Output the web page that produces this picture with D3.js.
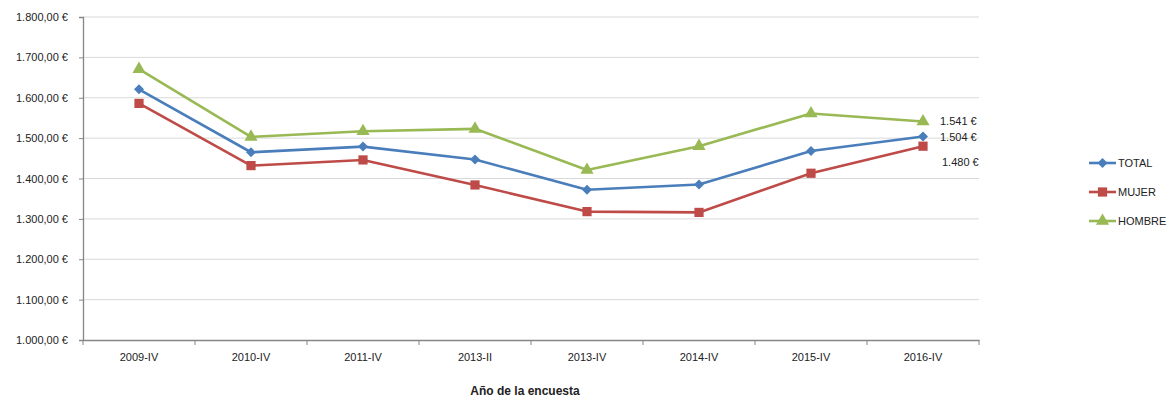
<!DOCTYPE html>
<html>
<head>
<meta charset="utf-8">
<script src="https://cdn.jsdelivr.net/npm/d3@7"></script>
<style>
	body { margin: 0; background: #fff; }
	svg { font-family: "Liberation Sans", "DejaVu Sans", sans-serif; }
</style>
</head>
<body>
<svg width="1171" height="405"></svg>
<script>
// data........................................................................

var categories = ["2009-IV", "2010-IV", "2011-IV", "2013-II", "2013-IV", "2014-IV", "2015-IV", "2016-IV"];
var total  = [1621, 1465, 1479, 1447, 1372, 1385, 1468, 1504];
var mujer  = [1586, 1432, 1446, 1384, 1318, 1316, 1413, 1480];
var hombre = [1671, 1503, 1517, 1523, 1421, 1480, 1561, 1541];
var yTicks = [1000, 1100, 1200, 1300, 1400, 1500, 1600, 1700, 1800];
var lastLabels = ["1.504 €", "1.480 €", "1.541 €"];

var series = [
	{name: "TOTAL",  values: total,  color: "#4a7ebb", symbol: d3.symbolSquare,   size: 50, rot: 45},
	{name: "MUJER",  values: mujer,  color: "#be4b48", symbol: d3.symbolSquare,   size: 85, rot: 0},
	{name: "HOMBRE", values: hombre, color: "#98b954", symbol: d3.symbolTriangle, size: 75, rot: 0}
];

// scales and axes.............................................................

var svg = d3.select("svg"),
	plotL = 83, plotR = 979, plotT = 17, plotB = 340;

var x = d3.scaleBand().domain(categories).range([plotL, plotR]),
	y = d3.scaleLinear().domain([1000, 1800]).range([plotB, plotT]);

var fmt = d3.formatLocale({decimal: ",", thousands: ".", grouping: [3], currency: ["", " €"]});

// gridlines
svg.append("g")
	.selectAll("line")
	.data(yTicks.slice(1))
	.enter().append("line")
		.attr("x1", plotL).attr("x2", plotR)
		.attr("y1", function(d) { return y(d); })
		.attr("y2", function(d) { return y(d); })
		.style("stroke", "#d9d9d9")
		.style("stroke-width", 1);

var yAxis = svg.append("g")
	.attr("transform", "translate(" + plotL + ",0)")
	.call(d3.axisLeft(y).tickValues(yTicks).tickSize(4).tickPadding(11)
		.tickFormat(function(d) { return fmt.format(",.2f")(d) + " €"; }));

var xAxis = svg.append("g")
	.attr("transform", "translate(0," + plotB + ")")
	.call(d3.axisBottom(x).tickSize(0).tickPadding(13));

// category boundary ticks
svg.append("g")
	.selectAll("line")
	.data(d3.range(categories.length + 1))
	.enter().append("line")
		.attr("x1", function(i) { return plotL + i * x.step(); })
		.attr("x2", function(i) { return plotL + i * x.step(); })
		.attr("y1", plotB).attr("y2", plotB + 5)
		.style("stroke", "#868686");

svg.selectAll(".domain").style("stroke", "#868686").style("stroke-width", 1.3);
svg.selectAll(".tick line").style("stroke", "#868686");
svg.selectAll(".tick text").style("font-size", "11px").style("fill", "#222");

// lines and markers...........................................................

var line = d3.line()
	.x(function(d, i) { return x(categories[i]) + x.bandwidth() / 2; })
	.y(function(d) { return y(d); });

series.forEach(function(s) {
	svg.append("path")
		.datum(s.values)
		.attr("d", line)
		.style("fill", "none")
		.style("stroke", s.color)
		.style("stroke-width", 2.6)
		.style("stroke-linejoin", "round");

	svg.append("g")
		.selectAll("path")
		.data(s.values)
		.enter().append("path")
			.attr("transform", function(d, i) {
				return "translate(" + (x(categories[i]) + x.bandwidth() / 2) + "," + y(d) + ") rotate(" + s.rot + ")"; })
			.attr("d", d3.symbol().type(s.symbol).size(s.size))
			.style("fill", s.color);
});

// end labels
var labelPos = [[940, 137], [942, 162], [940, 121]];
svg.append("g")
	.selectAll("text")
	.data(lastLabels)
	.enter().append("text")
		.attr("x", function(d, i) { return labelPos[i][0]; })
		.attr("y", function(d, i) { return labelPos[i][1]; })
		.attr("dy", "0.35em")
		.style("font-size", "11px")
		.style("fill", "#222")
		.text(function(d) { return d; });

// legend
var legend = svg.append("g")
	.selectAll("g")
	.data(series)
	.enter().append("g")
		.attr("transform", function(d, i) { return "translate(1089," + (163 + i * 29) + ")"; });

legend.append("line")
	.attr("x1", 0).attr("x2", 27)
	.style("stroke", function(d) { return d.color; })
	.style("stroke-width", 2.6);
legend.append("path")
	.attr("transform", function(d) { return "translate(13.5,0) rotate(" + d.rot + ")"; })
	.attr("d", function(d) { return d3.symbol().type(d.symbol).size(d.size)(); })
	.style("fill", function(d) { return d.color; });
legend.append("text")
	.attr("x", 29).attr("dy", "0.35em")
	.style("font-size", "11px")
	.style("fill", "#222")
	.text(function(d) { return d.name; });

// axis title
svg.append("text")
	.attr("x", 525).attr("y", 395)
	.attr("text-anchor", "middle")
	.style("font-size", "12px")
	.style("font-weight", "bold")
	.style("fill", "#222")
	.text("Año de la encuesta");
</script>
</body>
</html>
